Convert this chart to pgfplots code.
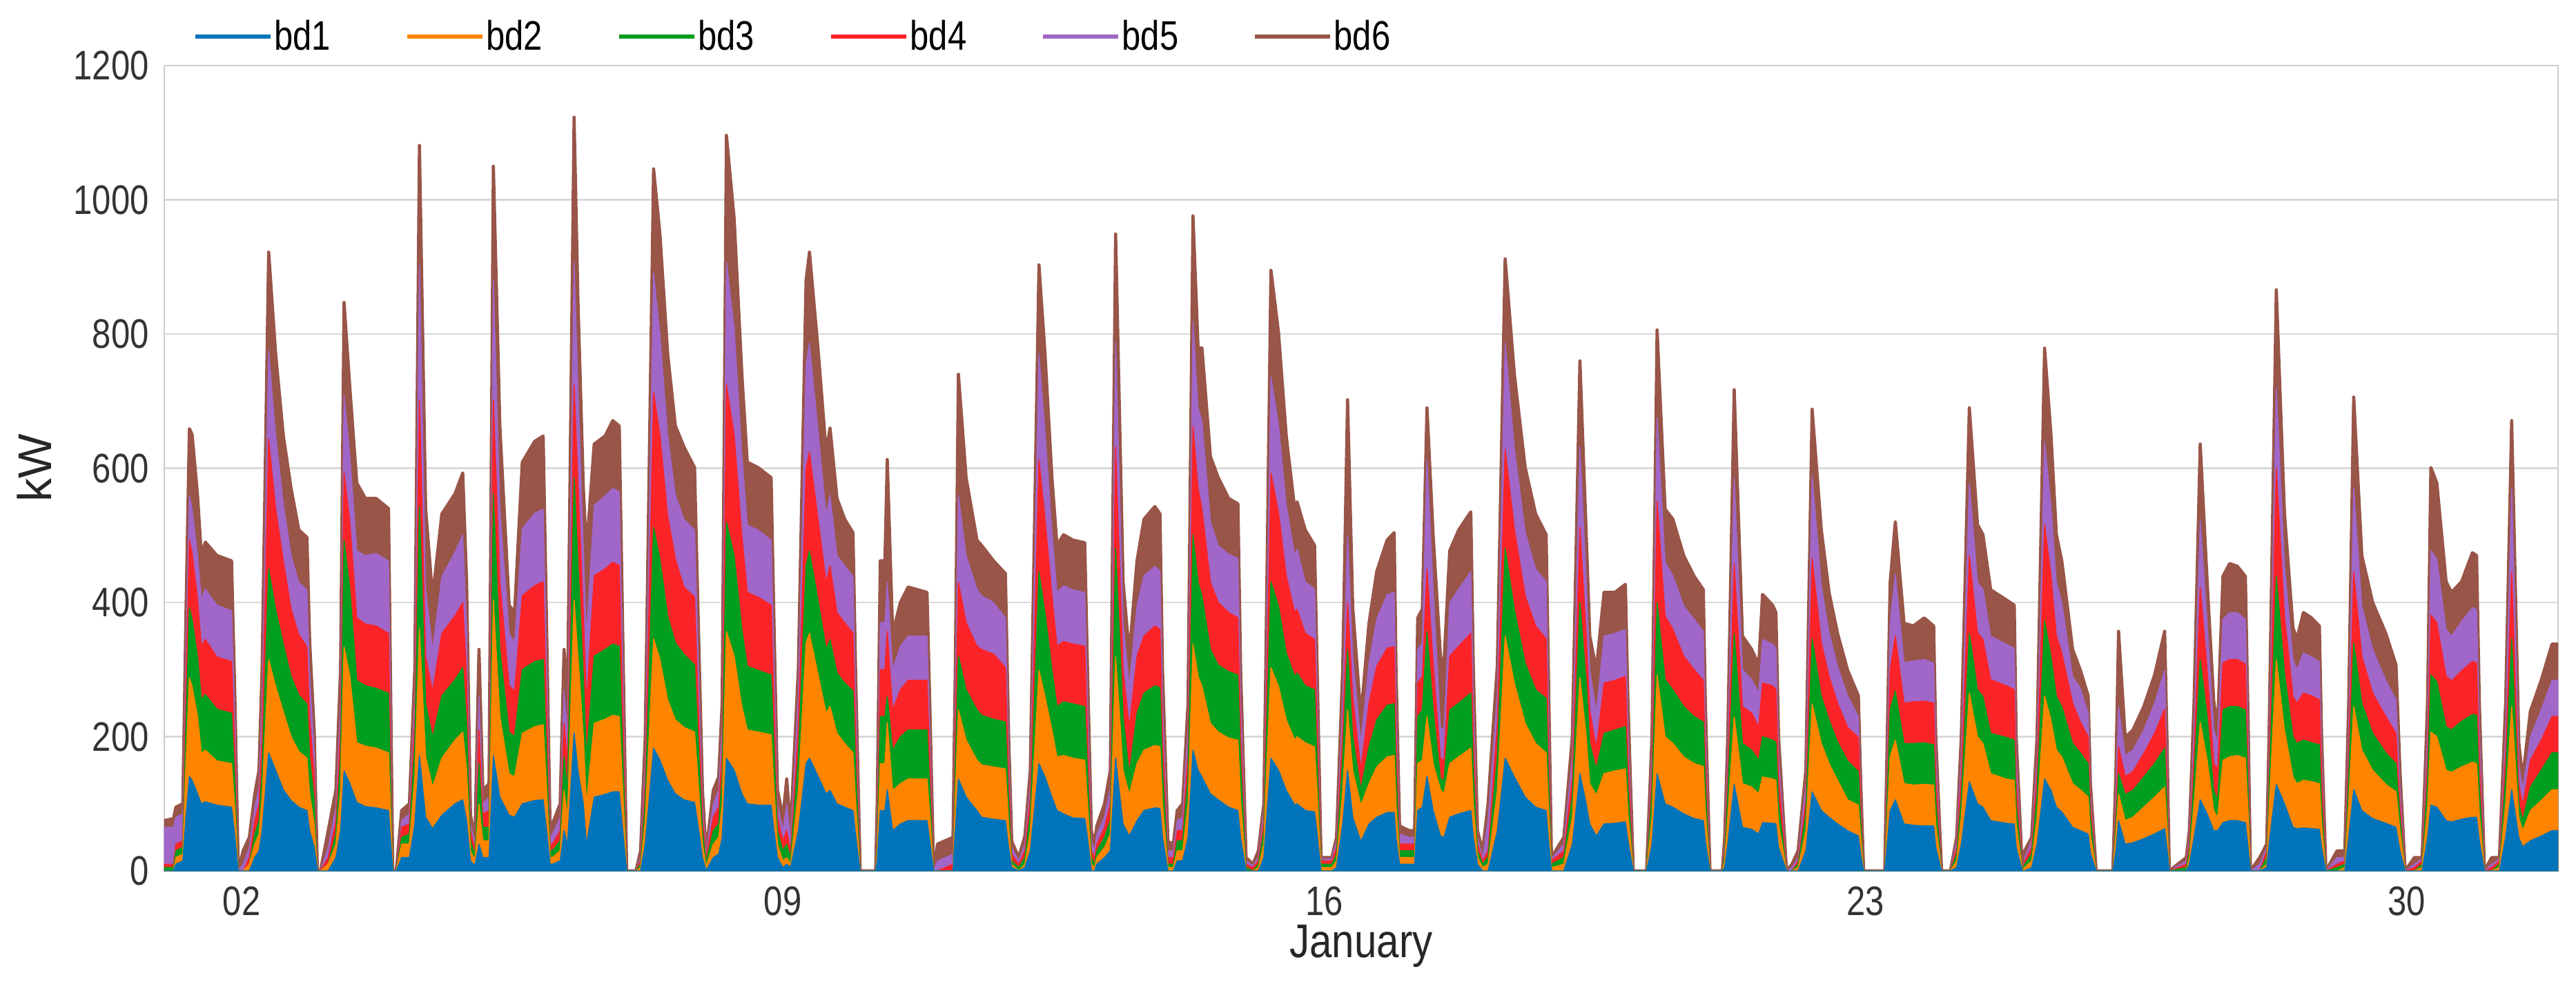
\documentclass[border=0pt]{standalone}
\usepackage{fontspec}
\setmainfont{Liberation Sans}
\usepackage{graphicx}
\usepackage{pgfplots}
\usepackage{pgfplotstable}
\pgfplotsset{compat=1.18}
\definecolor{c1}{RGB}{0,116,186}
\definecolor{c2}{RGB}{255,133,0}
\definecolor{c3}{RGB}{0,158,30}
\definecolor{c4}{RGB}{250,36,40}
\definecolor{c5}{RGB}{160,102,200}
\definecolor{c6}{RGB}{152,85,72}
\definecolor{gridc}{RGB}{217,217,217}
\definecolor{framec}{RGB}{204,204,204}
\newcommand{\sq}[1]{\scalebox{0.82}[1]{#1}}
% cumulative tops of the stacked areas (bd1, bd1+bd2, ..., bd1+...+bd6), kW
\pgfplotstableread{
x c1 c2 c3 c4 c5 c6
1.000 0 0 5 10 65 75
1.120 0 0 5 10 65 78
1.150 10 20 30 40 80 95
1.240 15 25 35 45 85 100
1.280 80 160 220 280 330 380
1.325 141 288 392 493 559 659
1.360 135 275 375 475 540 650
1.430 115 230 320 405 470 560
1.480 100 175 255 335 405 470
1.530 103 180 263 345 420 490
1.680 98 164 241 319 396 470
1.870 95 160 235 312 388 462
1.915 50 90 130 170 210 250
1.957 0 0 0 0 0 0
2.020 0 0 0 0 10 30
2.100 0 10 10 20 35 50
2.170 20 40 55 75 95 114
2.225 30 55 75 100 125 150
2.265 60 110 150 200 250 300
2.350 176 315 450 644 775 922
2.440 150 275 390 540 650 771
2.540 121 237 338 462 547 648
2.640 105 200 290 390 470 570
2.740 95 178 262 352 430 508
2.845 90 168 249 334 419 497
2.880 60 115 170 230 290 342
2.940 35 70 105 140 175 206
2.980 0 0 0 0 0 0
3.020 0 0 0 0 0 0
3.120 0 10 10 20 35 60
3.220 20 40 55 75 95 121
3.280 60 120 170 215 255 300
3.325 149 334 493 593 709 847
3.400 130 290 420 520 620 720
3.490 102 191 284 377 477 578
3.600 96 186 276 368 470 555
3.740 94 183 272 365 473 555
3.900 90 176 265 354 462 540
3.955 0 0 0 0 0 0
4.000 0 0 0 0 0 0
4.070 20 40 50 65 75 90
4.170 20 40 55 70 85 100
4.240 70 140 190 230 265 300
4.300 172 361 543 702 903 1081
4.380 80 170 250 320 420 540
4.470 63 125 199 268 330 408
4.590 83 168 261 354 439 532
4.760 100 195 285 380 475 562
4.860 106 207 303 400 501 593
4.910 75 150 220 290 360 431
4.960 15 30 45 60 70 83
5.000 10 20 30 40 50 60
5.020 10 20 30 40 50 60
5.070 40 100 160 210 260 330
5.120 20 45 65 85 100 120
5.200 20 45 65 90 110 130
5.256 172 404 562 702 880 1050
5.340 110 230 330 430 540 663
5.460 83 145 207 276 354 396
5.530 80 140 200 268 340 385
5.630 100 205 300 410 510 609
5.790 105 215 312 425 533 640
5.900 106 218 315 431 539 648
5.950 55 110 160 220 275 330
5.990 10 20 30 40 50 60
6.020 10 20 30 40 55 70
6.120 15 30 45 60 80 100
6.170 60 120 170 220 270 330
6.215 40 80 120 160 200 250
6.300 206 404 586 724 908 1123
6.350 150 320 460 580 720 850
6.420 100 200 290 385 480 570
6.460 40 100 170 250 350 477
6.560 110 220 320 440 545 636
6.700 114 226 330 450 559 648
6.800 118 232 338 460 570 671
6.884 118 230 335 455 565 663
6.930 60 120 175 240 300 350
6.980 0 0 0 0 0 0
7.100 0 0 0 0 0 0
7.160 0 5 10 15 20 30
7.220 40 75 105 135 165 200
7.328 183 346 512 713 891 1046
7.410 165 315 465 650 800 949
7.510 135 255 380 530 650 771
7.610 115 225 340 465 560 663
7.720 106 214 323 423 524 632
7.858 102 207 307 408 508 601
7.900 70 140 205 270 335 400
7.960 20 40 60 80 100 121
8.010 0 5 10 15 18 20
8.030 5 15 25 35 45 50
8.100 20 40 60 80 100 120
8.170 25 50 70 95 120 140
8.215 50 100 140 180 215 250
8.270 168 357 520 725 907 1096
8.370 150 320 470 650 810 972
8.470 115 245 360 500 620 740
8.540 100 210 305 415 515 609
8.680 98 207 299 408 508 601
8.848 98 203 292 396 493 586
8.880 65 135 200 270 335 400
8.930 20 40 60 80 100 121
9.000 5 15 30 45 60 80
9.050 10 20 40 60 100 137
9.100 5 10 20 30 45 60
9.200 60 120 170 215 260 300
9.300 160 340 455 600 755 880
9.344 168 354 477 624 787 922
9.460 140 290 400 520 650 771
9.560 115 235 330 430 530 624
9.610 120 245 345 455 560 660
9.700 100 205 295 385 470 555
9.800 95 190 280 370 455 524
9.907 90 176 268 354 439 504
9.940 55 105 160 210 260 300
10.000 0 0 0 0 0 0
10.200 0 0 0 0 0 0
10.220 15 30 45 60 80 100
10.260 90 160 230 300 370 462
10.320 90 160 230 300 370 462
10.350 121 222 260 357 431 613
10.420 60 120 180 240 300 354
10.520 70 130 200 270 335 400
10.620 75 137 210 284 350 423
10.864 75 137 210 284 350 415
10.900 45 85 125 170 210 250
10.950 0 0 0 0 0 0
11.000 0 0 0 0 15 40
11.200 0 0 0 10 25 50
11.230 60 110 160 210 250 300
11.270 137 240 320 430 560 740
11.370 110 195 270 370 470 586
11.510 90 165 240 335 420 493
11.570 80 158 232 330 410 485
11.725 77 155 226 323 400 462
11.878 75 152 222 303 377 443
11.920 35 70 105 140 170 200
11.960 5 10 15 25 35 44
12.050 0 0 5 10 15 20
12.130 5 10 20 30 40 52
12.200 30 60 85 110 130 150
12.312 160 299 446 613 771 903
12.390 140 260 385 525 655 771
12.480 110 210 300 410 505 586
12.545 90 170 245 335 415 485
12.630 85 172 252 342 425 501
12.750 79 168 249 338 419 493
12.904 78 165 245 335 415 489
12.940 50 100 150 200 250 300
12.990 0 10 20 30 45 60
13.030 0 5 10 20 30 40
13.060 10 20 30 40 55 67
13.160 20 35 50 65 80 100
13.235 30 55 75 100 125 150
13.303 168 319 481 632 787 949
13.350 120 240 360 470 590 700
13.400 70 150 230 300 370 431
13.480 52 114 145 214 276 323
13.580 75 160 235 320 395 462
13.670 90 180 265 350 440 524
13.810 94 187 276 365 454 543
13.877 93 185 273 360 447 532
13.910 50 100 150 200 250 300
13.980 0 5 10 20 30 44
14.050 0 5 10 20 30 40
14.100 15 30 45 60 75 90
14.170 15 30 45 60 80 100
14.240 50 100 140 175 215 250
14.304 180 338 501 663 818 976
14.370 150 290 430 570 690 779
14.420 140 275 410 540 670 779
14.530 115 220 330 430 520 617
14.630 106 207 307 400 485 586
14.765 95 198 297 385 472 555
14.885 90 195 292 377 466 547
14.920 50 105 160 205 255 300
14.990 0 0 5 10 15 20
15.080 0 0 0 5 8 10
15.150 0 5 10 15 20 30
15.220 20 40 60 75 90 100
15.245 60 120 170 220 260 300
15.312 168 303 431 593 737 895
15.410 150 275 395 535 665 802
15.510 120 225 325 440 545 648
15.620 98 195 290 385 470 539
15.650 100 200 295 390 480 550
15.756 90 191 276 354 431 508
15.876 88 185 270 345 420 485
15.910 55 115 165 215 260 300
15.960 0 5 10 15 18 20
16.100 0 5 10 15 18 20
16.160 5 15 25 35 45 50
16.240 70 120 170 210 250 300
16.303 150 240 330 400 500 702
16.370 80 150 200 260 320 392
16.475 44 98 121 152 191 230
16.580 70 130 185 250 310 369
16.680 80 155 225 305 375 446
16.815 87 170 247 332 412 493
16.906 87 172 249 334 415 504
16.930 50 100 150 200 250 300
16.975 10 20 30 40 55 67
17.100 10 20 30 40 50 60
17.170 10 20 30 40 50 60
17.210 90 160 230 280 330 377
17.270 95 165 240 290 340 390
17.330 141 230 357 450 613 690
17.410 90 160 240 310 420 500
17.505 52 121 137 168 214 319
17.550 50 115 135 165 210 310
17.624 80 160 240 320 400 477
17.740 85 170 250 335 420 508
17.897 90 183 265 354 446 535
17.930 50 100 150 200 250 300
17.983 10 20 30 40 50 60
18.050 0 5 10 15 20 30
18.120 0 10 20 30 75 100
18.240 60 120 170 220 265 307
18.341 168 350 481 628 787 912
18.460 140 280 390 510 630 740
18.600 110 220 310 410 505 601
18.735 95 190 270 365 450 532
18.871 90 176 257 346 431 501
18.900 50 100 150 200 250 300
18.940 0 5 10 15 18 20
19.100 0 10 20 30 40 50
19.210 40 80 110 140 170 200
19.308 145 288 400 512 632 760
19.390 100 200 280 350 430 500
19.435 70 130 190 240 300 350
19.520 52 113 152 183 237 300
19.620 70 145 205 280 350 415
19.760 71 149 210 284 354 415
19.896 73 152 215 290 360 427
19.930 45 85 125 170 210 250
19.998 0 0 0 0 0 0
20.170 0 0 0 0 0 0
20.240 40 80 120 150 175 200
20.306 145 292 400 551 675 806
20.410 100 200 285 380 460 539
20.510 95 190 270 360 440 524
20.650 85 170 245 320 395 470
20.785 78 160 230 300 375 439
20.904 75 156 222 284 357 419
20.930 45 90 130 170 210 250
20.990 0 0 0 0 0 0
21.150 0 0 0 0 0 0
21.180 5 15 25 35 45 50
21.220 40 80 115 145 175 200
21.303 129 230 354 458 586 717
21.410 65 130 190 245 300 350
21.530 62 125 180 235 285 330
21.620 55 115 165 215 265 307
21.670 72 140 200 280 345 412
21.800 71 137 195 276 338 396
21.843 70 135 192 270 332 385
21.877 35 70 100 140 170 200
21.980 0 0 0 0 0 0
22.050 0 0 0 0 5 10
22.130 0 5 10 15 20 30
22.230 30 60 85 105 130 150
22.311 118 249 346 466 590 688
22.430 90 190 260 340 425 508
22.530 80 160 225 290 355 415
22.640 70 135 192 250 305 354
22.770 60 106 164 214 261 299
22.909 52 98 148 199 230 261
22.940 25 50 75 100 115 130
22.977 0 0 0 0 0 0
23.250 0 0 0 0 0 0
23.320 90 170 240 300 370 430
23.387 106 195 268 350 443 520
23.500 70 130 190 250 310 369
23.620 68 128 190 252 313 365
23.760 67 129 191 253 315 377
23.883 67 128 188 250 310 365
23.910 35 70 105 140 170 200
23.985 0 0 0 0 0 0
24.100 0 0 0 0 0 0
24.180 5 15 25 35 45 50
24.240 40 80 110 140 170 200
24.344 133 265 354 470 578 690
24.450 100 200 270 355 430 516
24.520 95 190 260 345 420 501
24.620 75 145 205 285 350 419
24.820 71 137 199 276 338 404
24.925 70 135 195 270 332 396
24.950 35 70 100 135 165 200
25.030 0 0 0 0 0 0
25.060 0 5 10 15 20 30
25.150 5 15 25 35 45 50
25.220 40 80 115 145 170 200
25.317 137 261 373 516 640 779
25.400 120 225 320 440 545 650
25.470 95 180 260 350 430 501
25.540 88 170 245 325 400 462
25.680 65 130 190 250 290 330
25.780 60 121 176 222 272 299
25.881 55 110 160 200 235 261
25.910 27 55 80 100 115 130
25.984 0 0 0 0 0 0
26.200 0 0 0 0 0 0
26.240 30 55 75 95 120 150
26.274 75 115 145 185 245 357
26.360 40 75 114 141 172 199
26.460 42 80 120 148 180 210
26.600 48 95 140 175 210 245
26.740 55 110 160 205 250 292
26.870 63 125 183 241 299 357
26.900 35 70 100 135 165 200
26.930 0 0 0 0 0 0
27.150 0 0 5 10 15 20
27.190 10 20 30 40 50 60
27.250 50 100 140 175 210 250
27.330 106 222 315 423 524 636
27.420 85 165 230 300 370 431
27.505 60 90 120 160 210 253
27.555 60 79 106 152 191 214
27.624 72 165 240 310 375 439
27.710 75 170 245 315 385 458
27.810 75 172 245 315 385 454
27.914 72 168 240 308 375 439
27.950 35 85 120 155 190 220
27.980 0 0 0 0 0 0
28.100 0 0 0 0 10 20
28.190 5 10 20 30 35 40
28.220 40 90 125 150 175 200
28.314 129 315 439 600 720 866
28.420 100 210 295 380 455 532
28.530 65 140 200 260 315 362
28.580 63 130 190 250 300 346
28.665 64 135 195 265 325 385
28.770 63 133 191 261 319 377
28.871 62 130 188 255 312 365
28.900 35 70 100 140 170 200
28.956 0 0 0 0 0 0
29.100 0 0 5 10 20 30
29.200 0 5 10 15 20 30
29.250 50 100 140 175 210 250
29.315 121 245 340 445 570 706
29.420 90 180 250 320 395 470
29.560 78 150 205 265 330 400
29.730 71 129 176 230 284 354
29.862 65 118 160 205 255 307
29.913 30 60 80 100 125 150
29.980 0 0 0 0 0 0
30.100 0 0 0 5 10 20
30.200 0 5 10 15 18 20
30.270 50 95 135 170 210 250
30.313 98 207 292 381 477 601
30.390 95 200 282 370 465 578
30.510 75 150 215 290 360 431
30.580 73 147 210 283 350 415
30.710 77 155 223 298 372 431
30.850 80 162 233 312 392 474
30.904 80 160 232 310 390 470
30.940 45 85 125 165 210 250
31.006 0 0 0 0 0 0
31.100 0 0 0 5 10 20
31.200 0 5 10 15 18 20
31.280 50 100 140 175 210 250
31.358 121 245 346 446 570 671
31.450 50 80 100 130 160 191
31.500 36 60 75 98 121 137
31.600 45 90 125 165 200 238
31.740 52 105 150 195 240 284
31.880 60 121 176 230 284 338
31.958 60 121 176 230 284 338
}\data
\begin{document}
\begin{tikzpicture}
\begin{axis}[
  name=ax,
  scale only axis,
  width=346.8mm, height=116.7mm,
  xmin=1, xmax=31.958, ymin=0, ymax=1200,
  axis line style={framec, line width=0.8pt},
  ymajorgrids, xmajorgrids=false,
  grid style={gridc, line width=0.8pt},
  major tick length=0pt,
  xtick={2,9,16,23,30},
  xticklabels={\sq{02},\sq{09},\sq{16},\sq{23},\sq{30}},
  ytick={0,200,400,600,800,1000,1200},
  yticklabels={\sq{0},\sq{200},\sq{400},\sq{600},\sq{800},\sq{1000},\sq{1200}},
  tick label style={font=\fontsize{17}{20}\selectfont, text=black!80},
  xticklabel style={yshift=-1mm},
  yticklabel style={xshift=-1mm},
  xlabel={\scalebox{0.85}[1]{January}},
  ylabel={kW},
  label style={font=\fontsize{19.5}{23}\selectfont, text=black!85},
  xlabel style={at={(axis description cs:0.5,0)}, anchor=base, yshift=-12.5mm},
  ylabel style={at={(axis description cs:0,0.5)}, anchor=center, yshift=18.8mm},
  legend columns=6,
  legend style={draw=none, fill=none, inner sep=0pt, outer sep=0pt,
    at={(axis description cs:0,1)}, anchor=west, xshift=4.2mm, yshift=4.2mm,
    font=\fontsize{17}{20}\selectfont,
    /tikz/every odd column/.append style={column sep=-0.4mm},
    /tikz/every even column/.append style={column sep=10.1mm}},
  legend image code/.code={\draw[#1, line width=1.5pt] (0mm,0mm) -- (10.9mm,0mm);},
]
\addlegendimage{c1}\addlegendentry{\sq{bd1}}
\addlegendimage{c2}\addlegendentry{\sq{bd2}}
\addlegendimage{c3}\addlegendentry{\sq{bd3}}
\addlegendimage{c4}\addlegendentry{\sq{bd4}}
\addlegendimage{c5}\addlegendentry{\sq{bd5}}
\addlegendimage{c6}\addlegendentry{\sq{bd6}}
\addplot[forget plot, fill=c6, draw=c6, line width=1.3pt, line join=round] table[x=x, y=c6] {\data} \closedcycle;
\addplot[forget plot, fill=c5, draw=c5, line width=0.4pt, line join=round] table[x=x, y=c5] {\data} \closedcycle;
\addplot[forget plot, fill=c4, draw=c4, line width=0.4pt, line join=round] table[x=x, y=c4] {\data} \closedcycle;
\addplot[forget plot, fill=c3, draw=c3, line width=0.4pt, line join=round] table[x=x, y=c3] {\data} \closedcycle;
\addplot[forget plot, fill=c2, draw=c2, line width=0.4pt, line join=round] table[x=x, y=c2] {\data} \closedcycle;
\addplot[forget plot, fill=c1, draw=c1, line width=0.4pt, line join=round] table[x=x, y=c1] {\data} \closedcycle;
\end{axis}
\pgfresetboundingbox
\path[use as bounding box] ([xshift=-23.8mm,yshift=-16mm]ax.south west) rectangle ([xshift=2.6mm,yshift=9.5mm]ax.north east);
\end{tikzpicture}
\end{document}
